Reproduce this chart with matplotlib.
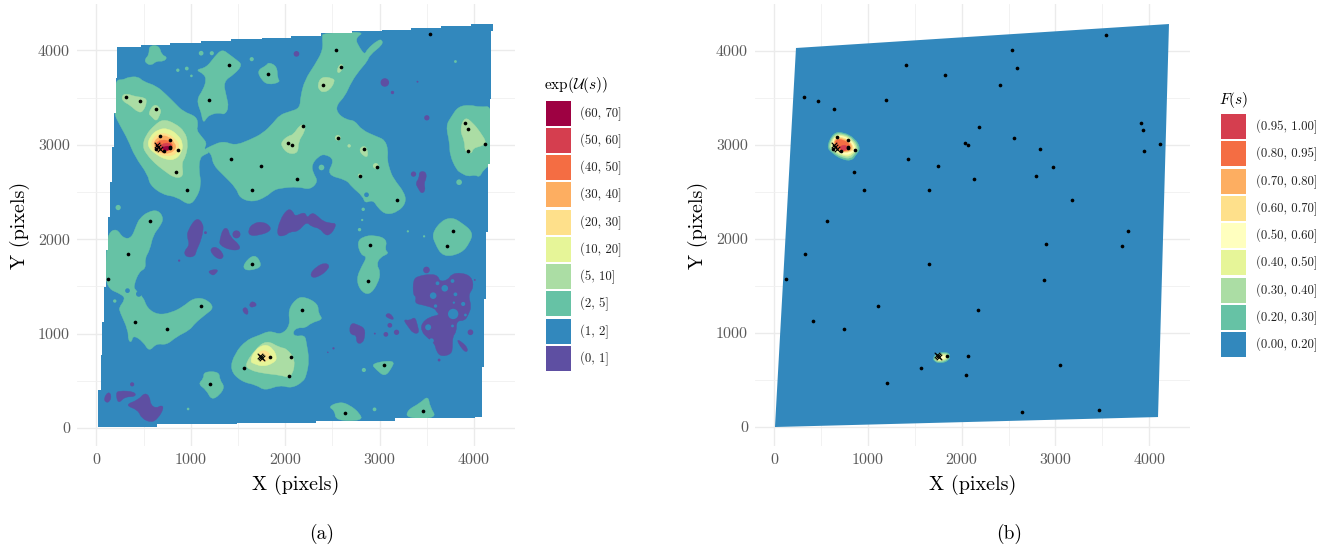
import matplotlib
matplotlib.use('Agg')
import matplotlib.pyplot as plt
from matplotlib.patches import Polygon, Circle, Rectangle, PathPatch
from matplotlib.path import Path

plt.rcParams['font.family'] = ['cmr10', 'DejaVu Serif']
plt.rcParams['mathtext.fontset'] = 'cm'
plt.rcParams['axes.formatter.use_mathtext'] = True

BLUE = '#3288BD'
PURPLE = '#5E4FA2'
GREEN = '#66C2A5'
LGREEN = '#ABDDA4'
LIME = '#E6F598'
PALE = '#FFFFBF'
YELLOW = '#FEE08B'
ORANGE = '#FDAE61'
DORANGE = '#F46D43'
RED = '#D53E4F'
DRED = '#9E0142'

# image area, staircase edge of the mosaic
domain = [(1, 15), (22, 15), (22, 403), (44, 403), (44, 774), (61, 774), (61, 1127), (82, 1127), (82, 1497),
          (107, 1497), (107, 1885), (125, 1885), (125, 2240), (143, 2240), (143, 2610), (171, 2610), (171, 2981),
          (185, 2981), (185, 3334), (206, 3334), (206, 3704), (224, 3704), (224, 4036), (471, 4036), (471, 4057),
          (785, 4057), (785, 4075), (1110, 4075), (1110, 4093), (1431, 4093), (1431, 4117), (1752, 4117),
          (1752, 4135), (2057, 4135), (2057, 4156), (2382, 4156), (2382, 4181), (2703, 4181), (2703, 4199),
          (3021, 4199), (3021, 4220), (3338, 4220), (3338, 4241), (3649, 4241), (3649, 4259), (3967, 4259),
          (3967, 4280), (4203, 4280), (4203, 4199), (4186, 4199), (4186, 3486), (4168, 3486), (4168, 2797),
          (4150, 2797), (4150, 2080), (4133, 2080), (4133, 1367), (4108, 1367), (4108, 650), (4087, 650),
          (4087, 120), (4009, 120), (4009, 103), (3162, 103), (3162, 78), (2322, 78), (2322, 57), (1491, 57),
          (1491, 39), (647, 39), (647, 15)]
# panel (b) shows the same area on a finer grid, steps too small to see
domain_fine = [(10, 0), (234, 4032), (4211, 4287), (4094, 106)]

# exp(U(s)) regions, level (0, 1]
purple_regions = [
    [(3420, 2716), (3490, 2716), (3497, 2645), (3469, 2593), (3487, 2515), (3444, 2480), (3409, 2540), (3381, 2593), (3420, 2645)],
    [(972, 2097), (1060, 2231), (1131, 2168), (1131, 2080), (1096, 1956), (1060, 1885), (1043, 1815), (954, 1808), (926, 1868), (990, 1938), (961, 2027)],
    [(1307, 1991), (1343, 2115), (1396, 2115), (1413, 2027), (1519, 1938), (1519, 1885), (1413, 1885), (1307, 1938)],
    [(1209, 1903), (1272, 1921), (1343, 1850), (1343, 1797), (1290, 1787), (1219, 1850)],
    [(1177, 1667), (1300, 1684), (1254, 1621), (1219, 1621)],
    [(1607, 2097), (1660, 2168), (1766, 2186), (1848, 2133), (1837, 2080), (1731, 2044), (1625, 2034)],
    [(1908, 2034), (1943, 2203), (2031, 2327), (2085, 2291), (2103, 2238), (2209, 2291), (2233, 2221), (2279, 2281),
     (2332, 2256), (2403, 2186), (2491, 2168), (2537, 2168), (2526, 2115), (2474, 2044), (2421, 2044), (2368, 2115),
     (2279, 2133), (2226, 2186), (2138, 2080), (2050, 2080), (1997, 2034)],
    [(2262, 1631), (2332, 1709), (2421, 1751), (2474, 1720), (2438, 1667), (2385, 1621), (2297, 1585)],
    [(3356, 1568), (3409, 1610), (3550, 1631), (3621, 1610), (3638, 1550), (3727, 1568), (3762, 1631), (3868, 1645),
     (3974, 1603), (3998, 1490), (3938, 1409), (3974, 1285), (3938, 1197), (3903, 1137), (3815, 1137), (3815, 1021),
     (3773, 968), (3773, 862), (3762, 784), (3656, 756), (3603, 809), (3585, 897), (3515, 950), (3444, 1021),
     (3444, 1109), (3533, 1179), (3638, 1197), (3603, 1232), (3585, 1268), (3462, 1303), (3374, 1321), (3391, 1391), (3356, 1409)],
    [(3815, 939), (3868, 915), (3938, 844), (3921, 798), (3868, 844)],
    [(3250, 1151), (3321, 1137), (3374, 1179), (3402, 1091), (3420, 1003), (3356, 1003), (3303, 1074)],
    [(3056, 1197), (3109, 1222), (3162, 1144), (3091, 1162)],
    [(2678, 1038), (2703, 1116), (2774, 1091), (2844, 1056), (2844, 968), (2819, 897), (2756, 897), (2756, 985), (2703, 985)],
    [(1540, 1257), (1590, 1285), (1615, 1215), (1583, 1197)],
    [(1625, 1321), (1660, 1345), (1706, 1303), (1660, 1278), (1625, 1285)],
    [(79, 315), (125, 385), (160, 350), (143, 279), (100, 269)],
    [(206, 368), (241, 396), (407, 385), (418, 332), (301, 332), (231, 255)],
    [(301, 244), (443, 297), (513, 375), (566, 332), (573, 244), (637, 209), (690, 244), (714, 209), (654, 103), (584, 57), (478, 103), (443, 191)],
]
purple_x = [2120, 3056, 3137, 3501, 3360, 3402, 1156, 877, 1484, 3497, 3963, 3631, 4009, 3109, 3067, 3180, 2950, 2512, 2452, 379]
purple_y = [3962, 3659, 3553, 3285, 2689, 3667, 2069, 1773, 2051, 1674, 1014, 720, 1568, 1088, 992, 1014, 1000, 844, 802, 463]
purple_r = [30, 45, 18, 28, 28, 10, 15, 12, 42, 35, 30, 15, 10, 25, 25, 28, 10, 12, 8, 22]

# blue gaps left inside the large (0, 1] region
gap_x = [3691, 3568, 3804, 3614, 3773, 3593, 3886, 3780, 3787, 3910, 3515, 3773, 3550]
gap_y = [1480, 1402, 1416, 1533, 1557, 1292, 1314, 1208, 1328, 1197, 1067, 1081, 925]
gap_r = [35, 35, 20, 20, 20, 18, 22, 55, 12, 15, 32, 15, 25]

# level (2, 5]
green_regions = [
    [(559, 4050), (665, 4050), (690, 3952), (753, 3927), (714, 3881), (637, 3888), (584, 3839), (524, 3863), (513, 3906), (559, 3952)],
    [(206, 3687), (284, 3687), (337, 3715), (443, 3722), (496, 3669), (637, 3623), (743, 3528), (831, 3440), (919, 3351),
     (1060, 3299), (1078, 3210), (1060, 3157), (1113, 3087), (1173, 3016), (1138, 2956), (1202, 2917), (1138, 2893),
     (1096, 2857), (1085, 2734), (1113, 2575), (1060, 2434), (983, 2356), (849, 2451), (707, 2469), (566, 2575),
     (548, 2681), (408, 2875), (337, 3051), (248, 3210), (185, 3334), (195, 3510)],
    [(1050, 3793), (1166, 3817), (1254, 3934), (1332, 4012), (1413, 3952), (1484, 3899), (1547, 3846), (1466, 3750),
     (1343, 3669), (1378, 3510), (1403, 3397), (1360, 3316), (1300, 3341), (1202, 3316), (1166, 3281), (1138, 3235),
     (1120, 3281), (1113, 3334), (1060, 3475), (1131, 3581), (1166, 3687), (1138, 3750)],
    [(1703, 3786), (1802, 3839), (1826, 3874), (1915, 3828), (1918, 3704), (1950, 3662), (1819, 3634), (1749, 3687)],
    [(1202, 2981), (1343, 3041), (1466, 2991), (1625, 3051), (1766, 3122), (1872, 3228), (1943, 3316), (2049, 3351),
     (2156, 3387), (2163, 3510), (2209, 3687), (2315, 3846), (2403, 4005), (2392, 4146), (2403, 4181), (2851, 4199),
     (2738, 4128), (2791, 4022), (2844, 3952), (2869, 4012), (2985, 4110), (3028, 4110), (3031, 4057), (2897, 3952),
     (2869, 3881), (2791, 3793), (2703, 3669), (2632, 3510), (2544, 3422), (2551, 3334), (2650, 3263), (2738, 3256),
     (2809, 3157), (2968, 3087), (3056, 3051), (3091, 2945), (3081, 2840), (3109, 2734), (3144, 2645), (3268, 2487),
     (3278, 2381), (3197, 2292), (3074, 2257), (2985, 2328), (2932, 2416), (2844, 2381), (2826, 2451), (2703, 2557),
     (2650, 2628), (2438, 2681), (2526, 2840), (2421, 2903), (2350, 2875), (2279, 2787), (2297, 2699), (2350, 2610),
     (2262, 2522), (2138, 2557), (1943, 2540), (1872, 2515), (1802, 2451), (1660, 2391), (1519, 2434), (1484, 2540),
     (1343, 2681), (1237, 2787), (1219, 2910), (1138, 2945)],
    [(3702, 3200), (3762, 3299), (3833, 3404), (3956, 3422), (4062, 3397), (4203, 3411), (4203, 2804), (4097, 2734),
     (4062, 2656), (4009, 2681), (3938, 2663), (3868, 2698), (3815, 2734), (3744, 2893), (3744, 3016)],
    [(3557, 2062), (3656, 2196), (3769, 2231), (3868, 2175), (3991, 2073), (3956, 1963), (3868, 1850), (3674, 1808), (3585, 1956)],
    [(2763, 1963), (2819, 2027), (2950, 2044), (3081, 1998), (3056, 1885), (3102, 1850), (3003, 1808), (2968, 1727),
     (3010, 1656), (2985, 1532), (2890, 1402), (2791, 1462), (2756, 1585), (2809, 1709), (2869, 1815), (2802, 1833)],
    [(2908, 685), (3162, 721), (3127, 632), (3056, 544), (2968, 615)],
    [(2456, 226), (2579, 279), (2685, 244), (2791, 156), (2819, 78), (2537, 78), (2526, 184)],
    [(3296, 191), (3427, 262), (3515, 343), (3533, 226), (3610, 103), (3285, 103)],
    [(548, 2291), (654, 2309), (714, 2221), (672, 2133), (601, 2044), (566, 1885), (513, 1797), (524, 1691), (453, 1656),
     (397, 1515), (407, 1462), (496, 1391), (538, 1268), (654, 1197), (796, 1222), (919, 1285), (1025, 1374), (1149, 1374),
     (1254, 1278), (1149, 1197), (1043, 1109), (990, 1038), (849, 968), (743, 879), (637, 897), (559, 809), (496, 915),
     (390, 985), (372, 904), (337, 932), (337, 1038), (248, 1232), (241, 1278), (301, 1356), (284, 1409), (90, 1490),
     (107, 1885), (125, 2062), (213, 2115), (284, 2009), (372, 2009), (425, 2150), (460, 2221)],
    [(1413, 615), (1466, 791), (1590, 932), (1731, 985), (1837, 1031), (1960, 985), (2056, 1091), (2031, 1250), (2119, 1374),
     (2209, 1391), (2350, 1314), (2350, 1215), (2403, 1151), (2279, 1116), (2209, 1056), (2138, 1067), (2078, 1021),
     (2103, 968), (2209, 985), (2226, 897), (2255, 721), (2226, 562), (2191, 491), (2068, 421), (1944, 456), (1784, 396),
     (1696, 456), (1537, 491)],
    [(1078, 466), (1138, 526), (1138, 597), (1300, 597), (1307, 509), (1360, 438), (1307, 350), (1219, 297), (1166, 403)],
    [(1555, 1737), (1678, 1850), (1756, 1727), (1696, 1681), (1572, 1667)],
]
green_x = [231, 1110, 1223, 1646, 863, 958, 1007, 2385, 3843, 3804, 2827, 2816, 2788, 3300, 3472, 2834, 2947, 195, 972]
green_y = [2335, 3969, 3969, 3906, 3789, 3807, 3729, 2759, 2603, 3881, 2316, 2203, 2101, 2083, 2030, 615, 198, 1345, 202]
green_r = [28, 25, 22, 22, 18, 20, 14, 30, 30, 15, 18, 12, 18, 12, 12, 22, 20, 18, 14]

# blue gaps inside the (2, 5] regions
bay_x = [330, 450, 2862]
bay_y = [1455, 1420, 2470]
bay_r = [25, 30, 25]

# level (5, 10]
lgreen_regions = [
    [(488, 2981), (524, 3104), (619, 3210), (707, 3270), (831, 3228), (937, 3140), (972, 3016), (947, 2875), (901, 2804),
     (926, 2663), (831, 2645), (707, 2734), (619, 2804), (538, 2893)],
    [(266, 3510), (312, 3546), (407, 3510), (513, 3500), (538, 3457), (496, 3351), (443, 3341), (354, 3422), (284, 3457)],
    [(548, 3334), (619, 3440), (690, 3369), (672, 3316), (637, 3246), (584, 3298)],
    [(2343, 3634), (2385, 3722), (2509, 3704), (2526, 3669), (2474, 3581), (2403, 3553), (2361, 3581)],
    [(2544, 3786), (2586, 3863), (2622, 3828), (2572, 3750)],
    [(1962, 3034), (2032, 3094), (2085, 3104), (2156, 3210), (2209, 3210), (2209, 3140), (2138, 3034), (2138, 2910), (2032, 2903), (1962, 2981)],
    [(2781, 2945), (2827, 2991), (2869, 2963), (2879, 2868), (2827, 2882)],
    [(3850, 3157), (3903, 3299), (3991, 3228), (4062, 3140), (4140, 3016), (4062, 2981), (3991, 2963), (3974, 2903), (3903, 2928), (3903, 3034)],
    [(1572, 668), (1678, 827), (1802, 932), (1943, 851), (2013, 844), (2112, 721), (2066, 527), (1943, 562), (1766, 579), (1625, 615)],
]
lgreen_x = [2558, 2678, 2960, 2791]
lgreen_y = [3073, 2988, 2776, 2674]
lgreen_r = [30, 18, 30, 20]

# levels (10, 20] up to (60, 70], peak first then the second peak
lime_regions = [
    [(538, 2981), (566, 3087), (654, 3164), (760, 3175), (866, 3104), (919, 3016), (901, 2910), (831, 2840), (743, 2840), (637, 2893)],
    [(1625, 703), (1678, 826), (1784, 890), (1872, 844), (1918, 738), (1872, 685), (1766, 650), (1678, 678)],
]
yellow_regions = [
    [(573, 2998), (619, 3104), (743, 3129), (849, 3051), (884, 2981), (849, 2903), (760, 2875), (637, 2903)],
    [(1713, 809), (1802, 826), (1855, 756), (1802, 703), (1731, 703)],
]
orange_regions = [[(594, 3016), (672, 3094), (760, 3094), (831, 3016), (849, 2963), (778, 2903), (654, 2917)]]
dorange_regions = [[(619, 3009), (690, 3058), (796, 3034), (813, 2963), (743, 2928), (654, 2945)]]
red_regions = [[(672, 2981), (725, 3023), (796, 3009), (796, 2953), (725, 2935)]]
dred_regions = [[(690, 2963), (743, 2988), (785, 2981), (778, 2945), (725, 2938)]]

# F(s) regions, panel (b), one outline per level
f_levels = [GREEN, LGREEN, LIME, PALE, YELLOW, ORANGE, DORANGE, RED]
f_main = [
    [(561, 2982), (632, 3131), (738, 3138), (863, 3070), (923, 2964), (873, 2893), (827, 2832), (721, 2847), (614, 2918)],
    [(579, 2989), (639, 3116), (738, 3124), (852, 3060), (902, 2960), (856, 2903), (817, 2854), (721, 2868), (621, 2932)],
    [(596, 2996), (646, 3102), (738, 3109), (838, 3052), (888, 2953), (838, 2910), (802, 2875), (721, 2889), (632, 2946)],
    [(611, 3003), (653, 3095), (738, 3095), (827, 3045), (873, 2953), (827, 2918), (792, 2896), (721, 2903), (639, 2953)],
    [(625, 3010), (660, 3088), (738, 3081), (817, 3038), (856, 2953), (809, 2925), (721, 2918), (646, 2960)],
    [(632, 3017), (667, 3074), (738, 3067), (809, 3031), (838, 2960), (795, 2932), (721, 2925), (653, 2967)],
    [(646, 3024), (675, 3067), (738, 3052), (795, 3024), (817, 2967), (781, 2939), (721, 2935), (667, 2974)],
    [(696, 2974), (738, 3003), (781, 2989), (781, 2953), (731, 2939)],
]
f_second = [
    [(1691, 730), (1734, 784), (1840, 801), (1883, 759), (1858, 702), (1770, 677), (1716, 695)],
    [(1706, 730), (1745, 773), (1833, 787), (1869, 759), (1848, 713), (1770, 691), (1723, 702)],
    [(1720, 730), (1752, 766), (1826, 773), (1855, 752), (1833, 723), (1770, 702), (1734, 709)],
    [(1734, 730), (1762, 759), (1819, 759), (1833, 745), (1805, 723), (1762, 716)],
]

# detected stars
star_x = [315, 467, 637, 1410, 1819, 1194, 672, 785, 633, 718, 785, 785, 863, 849, 961, 1424, 1749, 1650, 2130, 2031, 2070, 566,
          2537, 2590, 2406, 3536, 2184, 2558, 2834, 2971, 2791, 3180, 3910, 3938, 3942, 4115, 3773,
          333, 128, 411, 750, 1106, 1653, 1202, 1562, 1844, 2066, 2042, 2897, 2879, 3713, 2177, 3045, 2639, 3465]
star_y = [3507, 3464, 3380, 3846, 3747, 3475, 3090, 3051, 2956, 2938, 2981, 2963, 2942, 2712, 2518, 2850, 2772, 2518, 2635, 3016, 2995, 2190,
          4008, 3824, 3637, 4170, 3193, 3073, 2953, 2769, 2670, 2416, 3231, 3164, 2931, 3009, 2084,
          1843, 1578, 1127, 1045, 1292, 1737, 466, 632, 756, 756, 555, 1942, 1561, 1928, 1250, 664, 163, 184]

# cluster centres, crosses
cross_x = [640, 655, 670, 1738, 1749, 1760]
cross_y = [3000, 2980, 2960, 765, 756, 745]

xticks = [0, 1000, 2000, 3000, 4000]
yticks = [0, 1000, 2000, 3000, 4000]
minor_ticks = [500, 1500, 2500, 3500]

u_labels = ['(60, 70]', '(50, 60]', '(40, 50]', '(30, 40]', '(20, 30]', '(10, 20]', '(5, 10]', '(2, 5]', '(1, 2]', '(0, 1]']
u_colors = [DRED, RED, DORANGE, ORANGE, YELLOW, LIME, LGREEN, GREEN, BLUE, PURPLE]
f_labels = ['(0.95, 1.00]', '(0.80, 0.95]', '(0.70, 0.80]', '(0.60, 0.70]', '(0.50, 0.60]', '(0.40, 0.50]', '(0.30, 0.40]', '(0.20, 0.30]', '(0.00, 0.20]']
f_colors = [RED, DORANGE, ORANGE, YELLOW, PALE, LIME, LGREEN, GREEN, BLUE]

W, H = 1341, 555
fig = plt.figure(figsize=(W / 100, H / 100), dpi=100)


def panel(left, right, top, bottom, xlim, ylim):
    ax = fig.add_axes([left / W, 1 - bottom / H, (right - left) / W, (bottom - top) / H])
    ax.set_xlim(xlim)
    ax.set_ylim(ylim)
    for s in ax.spines.values():
        s.set_visible(False)
    ax.set_xticks(xticks)
    ax.set_yticks(yticks)
    ax.set_xticks(minor_ticks, minor=True)
    ax.set_yticks(minor_ticks, minor=True)
    ax.set_xticklabels([str(t) for t in xticks])
    ax.set_yticklabels([str(t) for t in yticks])
    ax.tick_params(which='both', length=0)
    ax.tick_params(axis='both', labelsize=11.5, labelcolor='#5a5a5a', pad=5)
    ax.grid(True, which='major', color='#EBEBEB', lw=1)
    ax.grid(True, which='minor', color='#F0F0F0', lw=0.6)
    ax.set_axisbelow(True)
    ax.set_xlabel('X (pixels)', fontsize=14.5, labelpad=6)
    ax.set_ylabel('Y (pixels)', fontsize=14.5, labelpad=6)
    return ax


def rounded(pts):
    # quadratic curve through edge midpoints, contour lines are not angular
    n = len(pts)
    mid = [((pts[i][0] + pts[(i + 1) % n][0]) / 2, (pts[i][1] + pts[(i + 1) % n][1]) / 2) for i in range(n)]
    verts = [mid[-1]]
    codes = [Path.MOVETO]
    for i in range(n):
        verts += [pts[i], mid[i]]
        codes += [Path.CURVE3, Path.CURVE3]
    verts.append(mid[-1])
    codes.append(Path.CLOSEPOLY)
    return Path(verts, codes)


def regions(ax, polys, color, clip):
    for pts in polys:
        p = PathPatch(rounded(pts), fc=color, ec=color, lw=0.3, zorder=3)
        ax.add_patch(p)
        p.set_clip_path(clip)


def spots(ax, xs, ys, rs, color, clip):
    for x, y, r in zip(xs, ys, rs):
        c = Circle((x, y), r, fc=color, ec='none', zorder=3)
        ax.add_patch(c)
        c.set_clip_path(clip)


def stars(ax):
    ax.scatter(star_x, star_y, s=7, color='black', lw=0, zorder=5)
    ax.scatter(cross_x, cross_y, s=16, marker='x', color='black', lw=0.8, zorder=6)


def key(title, labels, colors, x0, tops, label_x, title_y):
    fig.text((x0 - 2) / W, 1 - title_y / H, title, fontsize=11, va='center', ha='left')
    for lab, col, t in zip(labels, colors, tops):
        fig.add_artist(Rectangle((x0 / W, 1 - (t + 25) / H), 25 / W, 25 / H, fc=col, ec='none', transform=fig.transFigure))
        fig.text(label_x / W, 1 - (t + 13) / H, lab, fontsize=9.2, va='center', ha='left', color='#222222')


# panel (a)
ax1 = panel(77, 515, 4, 446, (-205, 4435), (-190, 4490))
dom1 = Polygon(domain, closed=True, fc=BLUE, ec='none', zorder=2)
ax1.add_patch(dom1)
regions(ax1, purple_regions, PURPLE, dom1)
spots(ax1, purple_x, purple_y, purple_r, PURPLE, dom1)
spots(ax1, gap_x, gap_y, gap_r, BLUE, dom1)
regions(ax1, green_regions, GREEN, dom1)
spots(ax1, bay_x, bay_y, bay_r, BLUE, dom1)
spots(ax1, green_x, green_y, green_r, GREEN, dom1)
regions(ax1, lgreen_regions, LGREEN, dom1)
spots(ax1, lgreen_x, lgreen_y, lgreen_r, LGREEN, dom1)
regions(ax1, lime_regions, LIME, dom1)
regions(ax1, yellow_regions, YELLOW, dom1)
regions(ax1, orange_regions, ORANGE, dom1)
regions(ax1, dorange_regions, DORANGE, dom1)
regions(ax1, red_regions, RED, dom1)
regions(ax1, dred_regions, DRED, dom1)
stars(ax1)

# panel (b)
ax2 = panel(755, 1190, 4, 446, (-203, 4435), (-202, 4500))
dom2 = Polygon(domain_fine, closed=True, fc=BLUE, ec='none', zorder=2)
ax2.add_patch(dom2)
for col, pts in zip(f_levels, f_main):
    regions(ax2, [pts], col, dom2)
for col, pts in zip(f_levels, f_second):
    regions(ax2, [pts], col, dom2)
stars(ax2)

key(r'$\exp(\mathcal{U}(s))$', u_labels, u_colors, 546, [101, 128, 155, 182, 210, 237, 264, 291, 319, 346], 580, 85)
key(r'$F(s)$', f_labels, f_colors, 1221, [114, 141, 169, 196, 223, 250, 278, 305, 332], 1256, 100)

fig.text(322 / W, 1 - 534 / H, '(a)', fontsize=14, ha='center', va='center')
fig.text(1009 / W, 1 - 534 / H, '(b)', fontsize=14, ha='center', va='center')

fig.savefig('out.png', dpi=100)
